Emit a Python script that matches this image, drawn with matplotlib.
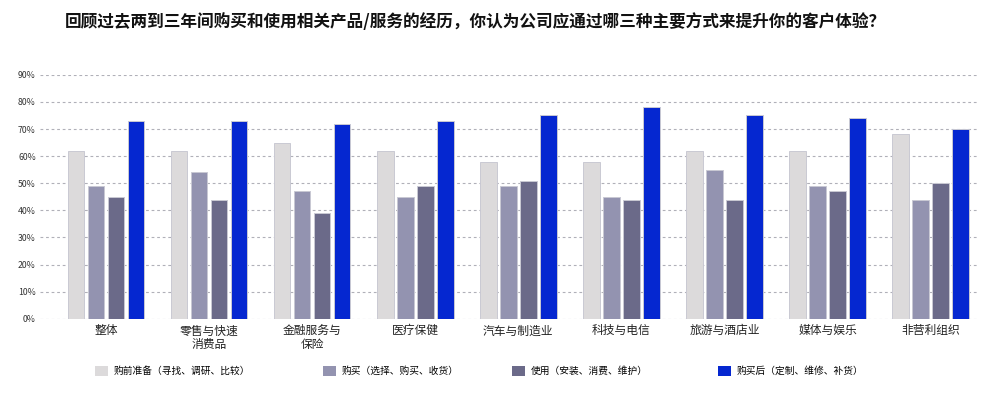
import numpy as np
import matplotlib
matplotlib.use("Agg")
import matplotlib.pyplot as plt
from matplotlib.patches import Patch
from matplotlib.ticker import PercentFormatter

plt.rcParams['font.family'] = ['Noto Sans CJK SC', 'DejaVu Sans']

# ---------------------------------------------------------------------------
# Data
# ---------------------------------------------------------------------------
categories = ["整体", "零售与快速\n消费品", "金融服务与\n保险", "医疗保健", "汽车与制造业",
              "科技与电信", "旅游与酒店业", "媒体与娱乐", "非营利组织"]
series_names = ["购前准备（寻找、调研、比较）", "购买（选择、购买、收货）",
                "使用（安装、消费、维护）", "购买后（定制、维修、补货）"]
pre_purchase = [62, 62, 65, 62, 58, 58, 62, 62, 68]
purchase = [49, 54, 47, 45, 49, 45, 55, 49, 44]
usage = [45, 44, 39, 49, 51, 44, 44, 47, 50]
post_purchase = [73, 73, 72, 73, 75, 78, 75, 74, 70]
yticks = [0, 10, 20, 30, 40, 50, 60, 70, 80, 90]

colors = ["#dcdadb", "#9393b0", "#6b6a89", "#0527d0"]
title = "回顾过去两到三年间购买和使用相关产品/服务的经历，你认为公司应通过哪三种主要方式来提升你的客户体验？"

# ---------------------------------------------------------------------------
# Plot
# ---------------------------------------------------------------------------
fig = plt.figure(figsize=(10, 4), dpi=100)
ax = fig.add_axes([0.040, 0.203, 0.938, 0.610])

x = np.arange(len(categories))
step = 0.194
width = 0.162
all_series = [pre_purchase, purchase, usage, post_purchase]
for i, (vals, col) in enumerate(zip(all_series, colors)):
    ax.bar(x + (i - 1.5) * step, vals, width, color=col,
           edgecolor="#c9c9d3", linewidth=0.7, zorder=3)

ax.set_xlim(-0.64, 8.46)
ax.set_ylim(0, 90)
ax.set_yticks(yticks)
ax.yaxis.set_major_formatter(PercentFormatter(decimals=0))
ax.grid(axis="y", linestyle=(0, (2.5, 2.5)), color="#b0b0b8", linewidth=0.8, zorder=0)
ax.set_axisbelow(True)
for s in ax.spines.values():
    s.set_visible(False)
ax.tick_params(axis="y", length=0, labelsize=6.3, labelcolor="#333333", pad=3)
ax.tick_params(axis="x", length=0, labelsize=8.5, labelcolor="#222222", pad=4)
ax.set_xticks(x)
ax.set_xticklabels(categories, linespacing=1.1, va="top")

fig.text(0.065, 0.945, title, fontsize=12, fontweight="bold", color="#111111",
         ha="left", va="center")

# legend, one entry each so the spacing follows the reference
leg_x = [0.095, 0.323, 0.512, 0.718]
for name, col, lx in zip(series_names, colors, leg_x):
    fig.legend(handles=[Patch(facecolor=col, edgecolor="none")], labels=[name],
               loc="center left", bbox_to_anchor=(lx, 0.073), frameon=False,
               fontsize=7, handlelength=1.3, handleheight=1.3, handletextpad=0.6,
               borderpad=0, borderaxespad=0)

fig.savefig("out.png", dpi=100)
